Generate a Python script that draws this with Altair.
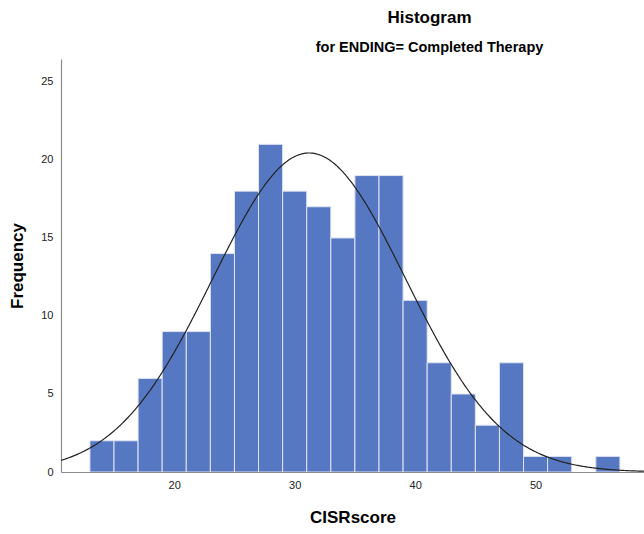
import altair as alt
import pandas as pd

# Histogram counts of CISRscore (bins of width 2, lower edges)
bin_lower = [13, 15, 17, 19, 21, 23, 25, 27, 29, 31, 33, 35, 37, 39, 41, 43, 45, 47, 49, 51, 53, 55]
counts = [2, 2, 6, 9, 9, 14, 18, 21, 18, 17, 15, 19, 19, 11, 7, 5, 3, 7, 1, 1, 0, 1]
bin_width = 2

# Fitted normal curve parameters
mean_score = 31.2
sd_score = 8.0
n_cases = sum(counts)

x_domain = [10.6, 59.0]
y_domain = [0, 26.47]
y_ticks = [0, 5, 10, 15, 20, 25]
x_ticks = [20, 30, 40, 50]

font = "Liberation Sans"
bar_fill = "#5677c1"
bar_edge = "#dfe4f3"

hist = pd.DataFrame({
    "lo": bin_lower,
    "hi": [b + bin_width for b in bin_lower],
    "count": counts,
})

x_scale = alt.Scale(domain=x_domain, nice=False, zero=False)
y_scale = alt.Scale(domain=y_domain, nice=False)

bars = (
    alt.Chart(hist)
    .transform_filter("datum.count > 0")
    .mark_bar(fill=bar_fill, stroke=bar_edge, strokeWidth=1, clip=True)
    .encode(
        x=alt.X(
            "lo:Q",
            scale=x_scale,
            axis=alt.Axis(
                values=x_ticks,
                title="CISRscore",
                ticks=False,
                grid=False,
                labelPadding=7,
                labelFontSize=11,
                labelColor="#222222",
                labelFont=font,
                titleFont=font,
                titleFontSize=17,
                titleFontWeight="bold",
                titleColor="#000000",
                titlePadding=19,
                domainColor="#8c8c8c",
                domainWidth=1.2,
            ),
        ),
        x2="hi:Q",
        y=alt.Y(
            "count:Q",
            scale=y_scale,
            axis=alt.Axis(
                values=y_ticks,
                title="Frequency",
                ticks=False,
                grid=False,
                labelPadding=8,
                labelFontSize=11,
                labelColor="#222222",
                labelFont=font,
                titleFont=font,
                titleFontSize=17,
                titleFontWeight="bold",
                titleColor="#000000",
                titlePadding=14,
                domainColor="#8c8c8c",
                domainWidth=1.2,
            ),
        ),
        y2=alt.datum(0),
    )
)

curve = (
    alt.Chart(alt.sequence(start=x_domain[0], stop=x_domain[1] + 0.05, step=0.1, as_="x"))
    .transform_calculate(
        freq=f"{n_cases * bin_width} / ({sd_score} * sqrt(2 * PI)) * exp(-pow(datum.x - {mean_score}, 2) / (2 * {sd_score} * {sd_score}))"
    )
    .mark_line(color="#222222", strokeWidth=1.2, clip=True)
    .encode(
        x=alt.X("x:Q", scale=x_scale),
        y=alt.Y("freq:Q", scale=y_scale),
    )
)

chart = (
    alt.layer(bars, curve)
    .properties(
        width=583,
        height=413,
        padding={"left": 61, "top": 59, "right": 0, "bottom": 62},
        autosize=alt.AutoSizeParams(type="none"),
        view=alt.ViewBackground(stroke="transparent", strokeWidth=0),
        title=alt.TitleParams(
            text="Histogram",
            subtitle="for ENDING= Completed Therapy",
            anchor="middle",
            dx=77,
            font=font,
            fontSize=17,
            fontWeight="bold",
            color="#000000",
            subtitleFont=font,
            subtitleFontSize=14.5,
            subtitleFontWeight="bold",
            subtitleColor="#000000",
            subtitlePadding=14,
            offset=4,
        ),
    )
    .configure_view(stroke="transparent", strokeWidth=0)
    .configure(background="#ffffff")
)

chart.save("out.html", embed_options={"renderer": "svg", "actions": False})
